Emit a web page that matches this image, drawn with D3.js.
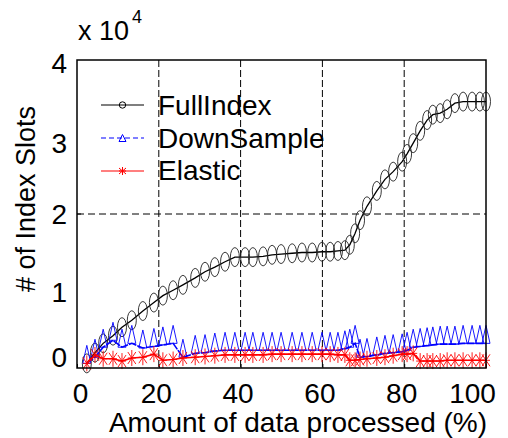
<!DOCTYPE html>
<html>
<head>
<meta charset="utf-8">
<script src="https://cdn.jsdelivr.net/npm/d3@7/dist/d3.min.js"></script>
<style>
  html, body { margin: 0; padding: 0; background: #fff; }
  svg { display: block; }
  text { font-family: "Liberation Sans", Arial, Helvetica, sans-serif; fill: #000; }
</style>
</head>
<body>
<svg id="chart" width="508" height="438"></svg>
<script>
// ---- data (index slots, raw counts; axis shows x 10^4) ----
const xPct = [2.4,4.4,6.4,8.8,11.0,13.4,16.1,18.8,21.0,23.5,25.9,28.9,31.3,33.7,36.2,38.6,41.1,43.0,45.5,47.7,
              49.9,52.6,55.0,57.5,59.9,61.9,63.8,65.5,66.7,68.0,69.2,70.9,73.3,75.3,77.3,79.5,80.7,82.2,83.9,85.6,
              87.0,88.8,90.5,92.4,94.4,96.6,98.5,100];
const fullIndex = [600,2000,3200,4200,5300,6200,7400,8500,9400,10100,10800,11700,12500,13100,13800,14400,14400,14400,14500,14700,
                   14800,14900,15000,15000,15100,15100,15200,15300,16000,17500,19200,21000,23000,24500,25500,26800,27800,29200,30800,32200,
                   32900,33100,33600,34400,34600,34600,34600,34600];
const downSample = [600,1400,2700,3600,2700,3200,2600,2800,3000,3200,1400,1900,2000,2200,2300,2300,2300,2300,2300,2300,
                    2300,2300,2300,2300,2300,2300,2300,2500,2700,3200,1400,1500,1700,1900,2000,2100,2300,2700,2800,2900,
                    3000,3100,3100,3100,3200,3200,3200,3200];
const elastic = [600,1700,1200,1200,900,1300,1400,1800,1000,1100,1300,1400,1500,1600,1700,1700,1700,1700,1700,1800,
                 1800,1800,1800,1800,1800,1800,1700,1700,1000,1000,1100,1200,1300,1400,1600,1800,1800,1900,900,900,
                 900,900,1000,1000,1000,1000,1000,1000];
const seriesNames = ["FullIndex", "DownSample", "Elastic"];
const xTicks = [0, 20, 40, 60, 80, 100];
const yTicks = [0, 10000, 20000, 30000, 40000];
const xGrid = [20, 40, 60, 80];
const yGrid = [20000];

// ---- layout ----
const svg = d3.select("#chart");
const L = 77, R = 486, T = 60, B = 368;
const x = d3.scaleLinear().domain([0, 100]).range([L, R]);
const y = d3.scaleLinear().domain([0, 40000]).range([B, T]);
const FS = 28;

// grid lines
svg.append("g").selectAll("line").data(xGrid).join("line")
  .attr("x1", d => x(d)).attr("x2", d => x(d)).attr("y1", T).attr("y2", B)
  .attr("stroke", "#000").attr("stroke-width", 1).attr("stroke-dasharray", "7,3");
svg.append("g").selectAll("line").data(yGrid).join("line")
  .attr("x1", L).attr("x2", R).attr("y1", d => y(d)).attr("y2", d => y(d))
  .attr("stroke", "#000").attr("stroke-width", 1).attr("stroke-dasharray", "7,4");

// x axis
const gx = svg.append("g").attr("transform", `translate(0,${B})`)
  .call(d3.axisBottom(x).tickValues(xTicks).tickSizeInner(-4).tickSizeOuter(0).tickPadding(15));
gx.select(".domain").remove();
gx.selectAll(".tick line").attr("stroke", "#000").attr("stroke-width", 1);
gx.selectAll(".tick text").attr("font-size", FS).attr("font-family", null)
  .attr("dx", (d, i) => d === 0 ? 3 : (d === 100 ? -14 : -3));

// y axis
const yNudge = {0: -10, 10000: 2, 20000: 1, 30000: 7, 40000: 4};
const gy = svg.append("g").attr("transform", `translate(${L},0)`)
  .call(d3.axisLeft(y).tickValues(yTicks).tickSize(0).tickPadding(10).tickFormat(d => d / 10000));
gy.select(".domain").remove();
gy.selectAll(".tick text").attr("font-size", FS).attr("font-family", null)
  .attr("transform", d => `translate(0,${yNudge[d]})`);
svg.append("g").selectAll("line").data(yGrid).join("line")
  .attr("x1", L).attr("x2", L + 4).attr("y1", d => y(d)).attr("y2", d => y(d))
  .attr("stroke", "#000").attr("stroke-width", 1);

// exponent label
const expo = svg.append("text").attr("x", 78).attr("y", 40).attr("font-size", 27);
expo.append("tspan").text("x 10");
expo.append("tspan").attr("font-size", 18).attr("dy", -17).attr("dx", 3).text("4");

// axis titles
svg.append("text").attr("transform", "translate(35,199) rotate(-90)")
  .attr("text-anchor", "middle").attr("font-size", 27).text("# of Index Slots");
svg.append("text").attr("x", 298).attr("y", 432)
  .attr("text-anchor", "middle").attr("font-size", FS).text("Amount of data processed (%)");

// ---- series ----
const line = vals => d3.line().x((d, i) => x(xPct[i])).y(d => y(d))(vals);

// marker drawers
function circleMarker(g, cx, cy, rx, ry, color, sw) {
  g.append("ellipse").attr("cx", cx).attr("cy", cy).attr("rx", rx).attr("ry", ry)
    .attr("fill", "none").attr("stroke", color).attr("stroke-width", sw);
}
function triMarker(g, cx, baseY, w, h, color, sw) {
  g.append("path").attr("d", `M${cx - w / 2},${baseY}L${cx},${baseY - h}L${cx + w / 2},${baseY}Z`)
    .attr("fill", "none").attr("stroke", color).attr("stroke-width", sw);
}
function starMarker(g, cx, cy, w, h, color, sw) {
  const p = `M${cx},${cy - h / 2}V${cy + h / 2}M${cx - w / 2},${cy}H${cx + w / 2}` +
            `M${cx - w / 2},${cy - h / 2 * 0.75}L${cx + w / 2},${cy + h / 2 * 0.75}` +
            `M${cx - w / 2},${cy + h / 2 * 0.75}L${cx + w / 2},${cy - h / 2 * 0.75}`;
  g.append("path").attr("d", p).attr("fill", "none").attr("stroke", color).attr("stroke-width", sw);
}

// FullIndex
svg.append("path").attr("d", line(fullIndex)).attr("fill", "none").attr("stroke", "#000").attr("stroke-width", 1.3);
const gFull = svg.append("g");
fullIndex.forEach((v, i) => circleMarker(gFull, x(xPct[i]), y(v), 4.5, 9.5, "#222", 0.9));

// DownSample
svg.append("path").attr("d", line(downSample)).attr("fill", "none").attr("stroke", "#0000ff")
  .attr("stroke-width", 1.6).attr("stroke-dasharray", "8,1");
const gDown = svg.append("g");
downSample.forEach((v, i) => triMarker(gDown, x(xPct[i]), y(v), 8, 18, "#0000ff", 0.9));

// Elastic
svg.append("path").attr("d", line(elastic)).attr("fill", "none").attr("stroke", "#ff0000").attr("stroke-width", 1.6);
const gEl = svg.append("g");
elastic.forEach((v, i) => starMarker(gEl, x(xPct[i]), y(v), 8, 16, "#ff0000", 0.9));

// plot box
svg.append("rect").attr("x", L).attr("y", T).attr("width", R - L).attr("height", B - T)
  .attr("fill", "none").attr("stroke", "#000").attr("stroke-width", 1.5);

// ---- legend ----
const legendRows = [
  {name: seriesNames[0], color: "#000", dash: null, yc: 105, base: 115, mk: "o"},
  {name: seriesNames[1], color: "#0000ff", dash: "5,3", yc: 138, base: 148, mk: "^"},
  {name: seriesNames[2], color: "#ff0000", dash: null, yc: 171, base: 180, mk: "*"}
];
const gl = svg.append("g");
legendRows.forEach(r => {
  gl.append("line").attr("x1", 101).attr("x2", 144).attr("y1", r.yc).attr("y2", r.yc)
    .attr("stroke", r.color).attr("stroke-width", 1.2).attr("stroke-dasharray", r.dash);
  if (r.mk === "o") circleMarker(gl, 122.5, r.yc, 3.2, 3.2, r.color, 1);
  if (r.mk === "^") triMarker(gl, 122.5, r.yc + 3.5, 7, 7, r.color, 1);
  if (r.mk === "*") starMarker(gl, 122.5, r.yc, 7, 8, r.color, 1);
  gl.append("text").attr("x", 158).attr("y", r.base).attr("font-size", FS).text(r.name);
});
</script>
</body>
</html>
